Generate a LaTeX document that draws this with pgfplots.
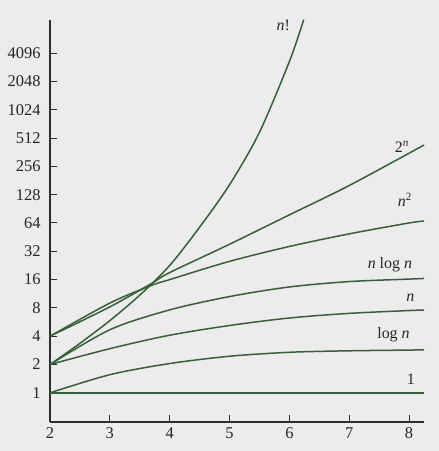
\documentclass[border=0pt]{standalone}
\usepackage{fontspec}
\setmainfont{Liberation Serif}
\usepackage{pgfplots}
\pgfplotsset{compat=1.18}
\definecolor{curve}{RGB}{55,95,58}
\definecolor{axc}{RGB}{45,45,45}
\definecolor{bg}{RGB}{236,236,236}
\begin{document}
\begin{tikzpicture}
\fill[bg] (-50bp,-29bp) rectangle (389bp,422bp);
\useasboundingbox (-50bp,-29bp) rectangle (389bp,422bp);
\begin{axis}[at={(0,0)}, anchor=south west, scale only axis,
  width=374bp, height=402bp,
  xmin=2, xmax=8.25, ymode=log, log basis y=2, ymin=0.49, ymax=9200,
  axis x line=bottom, axis y line=left,
  axis line style={-, axc, line width=1.1bp},
  xtick={2,3,4,5,6,7,8},
  ytick={1,2,4,8,16,32,64,128,256,512,1024,2048,4096},
  yticklabels={1,2,4,8,16,32,64,128,256,512,1024,2048,4096},
  tick style={axc, line width=1bp}, tick align=inside, major tick length=7bp,
  ticklabel style={font=\fontsize{16.5}{18}\selectfont, text=black!85},
  /pgf/number format/assume math mode=true,
  xticklabel style={yshift=-2bp},
  yticklabel style={xshift=-6bp},
  clip=false,
]
\pgfplotsset{g/.style={curve, line width=1.5bp, smooth, no markers, solid}}
\addplot[g] coordinates {(2,2) (2.5,3.36) (3,5.86) (3.5,10.93) (4,22.6) (4.5,57.7) (5,163) (5.5,588) (6,3327) (6.24,9280)};
\addplot[g] coordinates {(2,4) (3,8.2) (3.7,14.6) (4,19) (5,38) (6,78) (7,160) (8.25,431)};
\addplot[g] coordinates {(2,4) (3,9) (3.7,13.9) (4,16) (5,25) (6,36) (7,49) (8,64) (8.25,67)};
\addplot[g] coordinates {(2,2) (3,4.69) (4,7.62) (5,10.56) (6,13.36) (7,15.24) (8,16.2) (8.25,16.45)};
\addplot[g] coordinates {(2,2) (3,2.95) (4,4.1) (5,5.2) (6,6.25) (7,7) (8,7.5) (8.25,7.6)};
\addplot[g] coordinates {(2,1) (3,1.56) (4,2.05) (5,2.45) (6,2.7) (7,2.8) (8,2.85) (8.25,2.87)};
\addplot[g] coordinates {(2,1) (8.25,1)};
\begin{scope}[every node/.style={font=\fontsize{16}{18}\selectfont, text=black!85}]
\node at (axis cs:5.90,8140) {\textit{n}!};
\node at (axis cs:7.88,414) {2\textsuperscript{\textit{n}}};
\node at (axis cs:7.93,112) {\textit{n}\textsuperscript{2}};
\node at (axis cs:7.68,22.9) {\textit{n} log \textit{n}};
\node at (axis cs:8.02,10.3) {\textit{n}};
\node at (axis cs:7.74,4.13) {log \textit{n}};
\node at (axis cs:8.03,1.4) {1};
\end{scope}
\end{axis}
\end{tikzpicture}
\end{document}
